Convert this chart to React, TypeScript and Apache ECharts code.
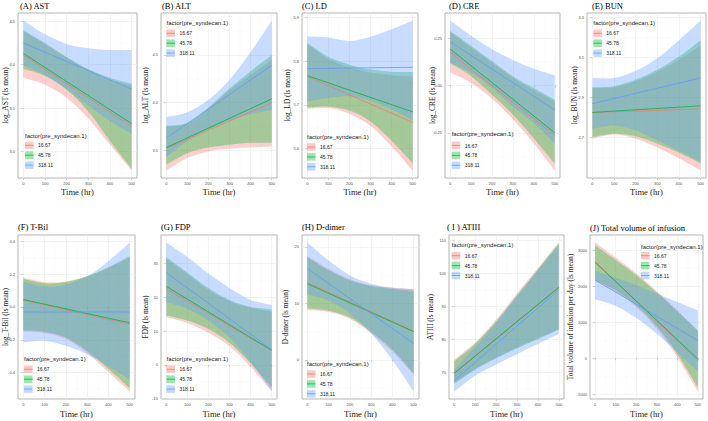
import React, { useEffect, useRef } from 'react';
import * as echarts from 'echarts';

// ---------- shared ----------
const TIMES = [0, 100, 200, 300, 400, 500];
const FIT_TIMES = [0, 500];
const X_TICKS = [0, 100, 200, 300, 400, 500];
const X_MINOR = [50, 150, 250, 350, 450];
const GROUPS = ['16.67', '45.78', '318.11'];
const COLORS = ['#F8766D', '#00BA38', '#619CFF'];
const LEGEND_TITLE = 'factor(pre_syndecan.1)';
const X_NAME = 'Time (hr)';

// ---------- (A) AST ----------  rows: 16.67, 45.78, 318.11
const astFit = [[4.11, 3.29], [4.13, 3.32], [4.25, 3.72]];
const astLower = [[3.85, 3.77, 3.62, 3.38, 3.08, 2.78], [3.95, 3.87, 3.71, 3.46, 3.12, 2.8], [3.99, 3.88, 3.72, 3.53, 3.35, 3.2]];
const astUpper = [[4.39, 4.24, 4.08, 3.94, 3.83, 3.76], [4.4, 4.25, 4.09, 3.95, 3.85, 3.78], [4.51, 4.35, 4.24, 4.19, 4.17, 4.17]];
const astTicks = [3.0, 3.5, 4.0, 4.5];

// ---------- (B) ALT ----------
const altFit = [[3.52, 4.0], [3.53, 4.04], [3.63, 4.39]];
const altLower = [[3.29, 3.42, 3.49, 3.52, 3.53, 3.54], [3.35, 3.47, 3.53, 3.56, 3.58, 3.58], [3.43, 3.6, 3.72, 3.81, 3.88, 3.92]];
const altUpper = [[3.75, 3.78, 3.94, 4.13, 4.29, 4.45], [3.76, 3.79, 3.95, 4.15, 4.33, 4.5], [3.85, 3.9, 4.03, 4.24, 4.53, 4.86]];
const altTicks = [3.5, 4.0, 4.5];

// ---------- (C) LD ----------
const ldFit = [[5.765, 5.66], [5.767, 5.684], [5.783, 5.786]];
const ldLower = [[5.691, 5.693, 5.68, 5.652, 5.605, 5.55], [5.694, 5.696, 5.687, 5.662, 5.618, 5.566], [5.708, 5.716, 5.72, 5.71, 5.69, 5.665]];
const ldUpper = [[5.838, 5.805, 5.786, 5.774, 5.768, 5.765], [5.842, 5.81, 5.792, 5.781, 5.776, 5.775], [5.857, 5.854, 5.846, 5.856, 5.873, 5.893]];
const ldTicks = [5.6, 5.7, 5.8, 5.9];

// ---------- (D) CRE ----------
const creFit = [[0.175, -0.263], [0.193, -0.25], [0.232, -0.129]];
const creLower = [[0.07, 0.015, -0.07, -0.178, -0.305, -0.45], [0.118, 0.05, -0.048, -0.155, -0.28, -0.414], [0.121, 0.068, -0.013, -0.111, -0.2, -0.307]];
const creUpper = [[0.282, 0.202, 0.121, 0.041, -0.025, -0.084], [0.291, 0.211, 0.13, 0.05, -0.013, -0.075], [0.345, 0.264, 0.193, 0.136, 0.089, 0.054]];
const creTicks = [-0.25, 0, 0.25];

// ---------- (E) BUN ----------
const bunFit = [[2.826, 2.843], [2.826, 2.859], [2.87, 2.998]];
const bunLower = [[2.695, 2.716, 2.695, 2.651, 2.597, 2.536], [2.703, 2.72, 2.707, 2.67, 2.625, 2.572], [2.744, 2.761, 2.736, 2.687, 2.634, 2.58]];
const bunUpper = [[2.949, 2.952, 2.982, 3.028, 3.089, 3.162], [2.952, 2.957, 2.99, 3.039, 3.105, 3.187], [2.998, 2.998, 3.034, 3.097, 3.187, 3.285]];
const bunTicks = [2.7, 2.9, 3.1, 3.3];

// ---------- (F) T-Bil ----------
const tbilFit = [[0.041, -0.105], [0.045, -0.097], [-0.031, -0.031]];
const tbilLower = [[-0.151, -0.159, -0.196, -0.282, -0.396, -0.515], [-0.144, -0.151, -0.186, -0.268, -0.377, -0.495], [-0.216, -0.206, -0.237, -0.289, -0.361, -0.443]];
const tbilUpper = [[0.179, 0.151, 0.155, 0.186, 0.237, 0.299], [0.171, 0.144, 0.151, 0.186, 0.241, 0.309], [0.155, 0.124, 0.134, 0.186, 0.278, 0.392]];
const tbilTicks = [-0.4, -0.2, 0, 0.2, 0.4];

// ---------- (G) FDP ----------
const fdpFit = [[22.5, 4.2], [23.2, 4.3], [27.3, 4.5]];
const fdpLower = [[14.1, 12.4, 9.5, 5.5, -0.6, -7.9], [14.6, 13.1, 10.6, 6.5, 0.4, -6.7], [18.5, 16.6, 13.1, 8.0, 0.9, -7.7]];
const fdpUpper = [[31.4, 26.8, 22.2, 18.7, 16.9, 15.8], [31.9, 27.3, 22.7, 19.2, 17.2, 16.4], [36.2, 31.9, 27.0, 22.7, 19.2, 17.7]];
const fdpTicks = [-10, 0, 10, 20, 30];

// ---------- (H) D-dimer ----------
const ddFit = [[13.7, 5.1], [13.5, 5.0], [16.2, 2.9]];
const ddLower = [[8.8, 8.5, 7.3, 4.7, 1.5, -2.6], [9.1, 8.7, 7.5, 5.0, 1.8, -2.4], [11.6, 10.5, 8.2, 4.7, 0.0, -5.6]];
const ddUpper = [[18.4, 16.1, 14.3, 13.2, 12.8, 12.6], [18.2, 15.9, 14.1, 13.1, 12.6, 12.2], [20.8, 17.6, 15.0, 13.5, 12.8, 12.5]];
const ddTicks = [0, 10, 20];

// ---------- (I) ATIII ----------
const atFit = [[69.8, 95.8], [69.7, 95.7], [67.5, 95.0]];
const atLower = [[66.7, 71.0, 74.5, 77.5, 80.3, 83.1], [66.5, 70.8, 74.2, 77.2, 80.0, 82.9], [64.2, 69.0, 72.4, 75.5, 78.6, 81.6]];
const atUpper = [[73.8, 79.0, 85.9, 93.9, 101.6, 109.3], [73.4, 78.6, 85.4, 93.3, 101.1, 109.0], [70.8, 77.7, 84.9, 92.9, 100.8, 108.5]];
const atTicks = [70, 80, 90, 100, 110];

// ---------- (J) Total volume of infusion ----------
const tvFit = [[2679, -65], [2660, -18], [2167, 493]];
const tvLower = [[2140, 1842, 1423, 819, 28, -920], [2167, 1879, 1470, 893, 121, -809], [1637, 1451, 1116, 679, 168, -372]];
const tvUpper = [[3209, 2790, 2353, 1860, 1330, 744], [3125, 2725, 2307, 1823, 1302, 772], [2419, 2233, 2028, 1795, 1563, 1330]];
const tvTicks = [-1000, 0, 1000, 2000, 3000];

const PANELS = [
  { title: '(A) AST', yName: 'log_AST (ls mean)', fit: astFit, lower: astLower, upper: astUpper, ticks: astTicks, dec: 1 },
  { title: '(B) ALT', yName: 'log_ALT (ls mean)', fit: altFit, lower: altLower, upper: altUpper, ticks: altTicks, dec: 1 },
  { title: '(C) LD', yName: 'log_LD (ls mean)', fit: ldFit, lower: ldLower, upper: ldUpper, ticks: ldTicks, dec: 1 },
  { title: '(D) CRE', yName: 'log_CRE (ls mean)', fit: creFit, lower: creLower, upper: creUpper, ticks: creTicks, dec: 2 },
  { title: '(E) BUN', yName: 'log_BUN (ls mean)', fit: bunFit, lower: bunLower, upper: bunUpper, ticks: bunTicks, dec: 1 },
  { title: '(F) T-Bil', yName: 'log_T-Bil (ls mean)', fit: tbilFit, lower: tbilLower, upper: tbilUpper, ticks: tbilTicks, dec: 1 },
  { title: '(G) FDP', yName: 'FDP (ls mean)', fit: fdpFit, lower: fdpLower, upper: fdpUpper, ticks: fdpTicks, dec: 0 },
  { title: '(H) D-dimer', yName: 'D-dimer (ls mean)', fit: ddFit, lower: ddLower, upper: ddUpper, ticks: ddTicks, dec: 0 },
  { title: '( I ) ATIII', yName: 'ATIII (ls mean)', fit: atFit, lower: atLower, upper: atUpper, ticks: atTicks, dec: 0 },
  { title: '(J) Total volume of infusion', yName: 'Total volume of infusion per day (ls mean)', fit: tvFit, lower: tvLower, upper: tvUpper, ticks: tvTicks, dec: 0 },
];

// layout (pixels)
const LAYOUT = [
  { left: 18, top: 13, width: 119, height: 165, tx: 20, ty: 6, yGap: 9.3, xGap: 9.5, lx: 25, lty: 136, lk: 145.3 },
  { left: 161, top: 13, width: 116, height: 165, tx: 162, ty: 6, yGap: 12, xGap: 9.5, lx: 166.5, lty: 22.7, lk: 33.3 },
  { left: 302, top: 13, width: 116, height: 165, tx: 302, ty: 6, yGap: 11, xGap: 9.5, lx: 307, lty: 137, lk: 147 },
  { left: 445, top: 13, width: 115, height: 165, tx: 449, ty: 6, yGap: 9.5, xGap: 9.5, lx: 451.7, lty: 134, lk: 145.5 },
  { left: 587, top: 13, width: 119, height: 165, tx: 592, ty: 6, yGap: 9, xGap: 9.5, lx: 593.3, lty: 22.7, lk: 33.3 },
  { left: 18, top: 235, width: 117, height: 164, tx: 18, ty: 227, yGap: 9.3, xGap: 10, lx: 24, lty: 359, lk: 369.3 },
  { left: 161, top: 235, width: 116, height: 164, tx: 161, ty: 227, yGap: 12, xGap: 10, lx: 166.5, lty: 359, lk: 369.3 },
  { left: 302, top: 235, width: 117, height: 164, tx: 302, ty: 227, yGap: 13, xGap: 10, lx: 307, lty: 364, lk: 374 },
  { left: 449, top: 235, width: 115, height: 164, tx: 447, ty: 227, yGap: 15, xGap: 10, lx: 451.7, lty: 245, lk: 255.7 },
  { left: 590, top: 235, width: 113, height: 164, tx: 590, ty: 227.5, yGap: 16.3, xGap: 10, lx: 641, lty: 246.7, lk: 255.7 },
];

const SERIF = '"Liberation Serif", "Times New Roman", serif';
const SANS = '"Liberation Sans", Arial, sans-serif';
const BAND_ALPHA = 0.35;
const GRID_MAJOR = '#EBEBEB';
const GRID_MINOR = '#F3F3F3';

function rgba(hex: string, a: number) {
  const n = parseInt(hex.slice(1), 16);
  return `rgba(${(n >> 16) & 255},${(n >> 8) & 255},${n & 255},${a})`;
}

type Pt = number[];
// cubic (Catmull-Rom style) path through already-projected points
function curveThrough(pts: Pt[]) {
  let d = '';
  for (let i = 0; i < pts.length - 1; i++) {
    const p0 = pts[i - 1] || pts[i];
    const p1 = pts[i];
    const p2 = pts[i + 1];
    const p3 = pts[i + 2] || pts[i + 1];
    const c1x = p1[0] + (p2[0] - p0[0]) / 6;
    const c1y = p1[1] + (p2[1] - p0[1]) / 6;
    const c2x = p2[0] - (p3[0] - p1[0]) / 6;
    const c2y = p2[1] - (p3[1] - p1[1]) / 6;
    d += `C${c1x},${c1y} ${c2x},${c2y} ${p2[0]},${p2[1]}`;
  }
  return d;
}

function bandRenderer(lo: number[], hi: number[], fill: string) {
  return (params: any, api: any) => {
    if (params.dataIndex !== 0) return null;
    const up = TIMES.map((t, j) => api.coord([t, hi[j]]));
    const dn = TIMES.map((t, j) => api.coord([t, lo[j]])).reverse();
    const d = `M${up[0][0]},${up[0][1]}` + curveThrough(up) + `L${dn[0][0]},${dn[0][1]}` + curveThrough(dn) + 'Z';
    return { type: 'path', shape: { pathData: d }, style: { fill, stroke: 'none' }, silent: true };
  };
}

function buildOption() {
  const grid: any[] = [];
  const xAxis: any[] = [];
  const yAxis: any[] = [];
  const series: any[] = [];
  const graphic: any[] = [];
  const n = PANELS.length;

  PANELS.forEach((p, gi) => {
    const L = LAYOUT[gi];
    const all = [...p.lower.flat(), ...p.upper.flat(), ...p.fit.flat()];
    const lo = Math.min(...all);
    const hi = Math.max(...all);
    const pad = (hi - lo) * 0.05;
    const yMin = lo - pad;
    const yMax = hi + pad;
    const step = p.ticks[1] - p.ticks[0];
    const yMinor = [p.ticks[0] - step / 2, ...p.ticks.map((t) => t + step / 2)].filter((v) => v > yMin && v < yMax);

    grid.push({
      left: L.left, top: L.top, width: L.width, height: L.height,
      show: true, borderColor: '#B3B3B3', borderWidth: 1, backgroundColor: '#FFFFFF',
      containLabel: false, outerBoundsMode: 'none',
    });
    xAxis[gi] = {
      gridIndex: gi, type: 'value', min: -25, max: 525, position: 'bottom',
      name: X_NAME, nameLocation: 'middle', nameGap: L.xGap, nameMoveOverlap: false,
      nameTextStyle: { fontFamily: SERIF, fontSize: 8.6, color: '#1A1A1A' },
      axisLine: { show: false },
      axisTick: { show: true, length: 2, customValues: X_TICKS, lineStyle: { color: '#B3B3B3', width: 0.6 } },
      axisLabel: { customValues: X_TICKS, fontSize: 4, color: '#4D4D4D', margin: 3, fontFamily: SANS },
      splitLine: { show: true, lineStyle: { color: GRID_MAJOR, width: 0.6 } },
      z: 1,
    };
    // minor grid x
    xAxis[n + gi] = {
      gridIndex: gi, type: 'value', min: -25, max: 525, position: 'bottom',
      axisLine: { show: false },
      axisTick: { show: false, customValues: X_MINOR },
      axisLabel: { show: false, customValues: X_MINOR },
      splitLine: { show: true, lineStyle: { color: GRID_MINOR, width: 0.4 } },
      z: 0,
    };
    yAxis[gi] = {
      gridIndex: gi, type: 'value', min: yMin, max: yMax, position: 'left',
      name: p.yName, nameLocation: 'middle', nameRotate: 90, nameGap: L.yGap, nameMoveOverlap: false,
      nameTextStyle: { fontFamily: SERIF, fontSize: 7.4, color: '#1A1A1A' },
      axisLine: { show: false },
      axisTick: { show: true, length: 2, customValues: p.ticks, lineStyle: { color: '#B3B3B3', width: 0.6 } },
      axisLabel: {
        customValues: p.ticks, fontSize: 4, color: '#4D4D4D', margin: 3, fontFamily: SANS,
        formatter: (v: number) => v.toFixed(p.dec),
      },
      splitLine: { show: true, lineStyle: { color: GRID_MAJOR, width: 0.6 } },
      z: 1,
    };
    yAxis[n + gi] = {
      gridIndex: gi, type: 'value', min: yMin, max: yMax, position: 'left',
      axisLine: { show: false },
      axisTick: { show: false, customValues: yMinor },
      axisLabel: { show: false, customValues: yMinor },
      splitLine: { show: true, lineStyle: { color: GRID_MINOR, width: 0.4 } },
      z: 0,
    };

    // confidence bands (ribbons)
    p.lower.forEach((lowArr, k) => {
      const upArr = p.upper[k];
      series.push({
        type: 'custom', xAxisIndex: gi, yAxisIndex: gi,
        data: TIMES.map((t, j) => [t, lowArr[j], upArr[j]]),
        encode: { x: 0, y: [1, 2] },
        renderItem: bandRenderer(lowArr, upArr, rgba(COLORS[k], BAND_ALPHA)),
        silent: true, z: 2, clip: true,
      });
    });
    // fitted lines
    p.fit.forEach((f, k) => {
      series.push({
        type: 'line', xAxisIndex: gi, yAxisIndex: gi,
        data: FIT_TIMES.map((t, j) => [t, f[j]]),
        symbol: 'none', silent: true, lineStyle: { color: COLORS[k], width: 0.8 },
        emphasis: { disabled: true }, z: 3,
      });
    });

    // panel title
    graphic.push({
      type: 'text', x: L.tx, y: L.ty, z: 100, silent: true,
      style: { text: p.title, fontFamily: SERIF, fontSize: 8.5, fill: '#000', verticalAlign: 'middle', align: 'left' },
    });
    // legend
    graphic.push({
      type: 'text', x: L.lx, y: L.lty, z: 100, silent: true,
      style: { text: LEGEND_TITLE, fontFamily: SANS, fontSize: 6, fill: '#1A1A1A', verticalAlign: 'middle', align: 'left' },
    });
    GROUPS.forEach((g, k) => {
      const cy = L.lk + k * 9.9;
      graphic.push({
        type: 'rect', z: 100, silent: true,
        shape: { x: L.lx, y: cy - 3.8, width: 8.5, height: 7.6 },
        style: { fill: rgba(COLORS[k], 0.38), stroke: 'none' },
      });
      graphic.push({
        type: 'line', z: 101, silent: true,
        shape: { x1: L.lx, y1: cy, x2: L.lx + 8.5, y2: cy },
        style: { stroke: COLORS[k], lineWidth: 0.8 },
      });
      graphic.push({
        type: 'text', x: L.lx + 13, y: cy, z: 100, silent: true,
        style: { text: g, fontFamily: SANS, fontSize: 5, fill: '#1A1A1A', verticalAlign: 'middle', align: 'left' },
      });
    });
  });

  return {
    animation: false,
    backgroundColor: '#FFFFFF',
    grid, xAxis, yAxis, series, graphic,
  };
}

export default function App() {
  const ref = useRef<HTMLDivElement>(null);
  useEffect(() => {
    if (!ref.current) return;
    const chart = echarts.init(ref.current, null, { renderer: 'svg' });
    chart.setOption(buildOption() as any);
    return () => chart.dispose();
  }, []);
  return (
    <div
      ref={ref}
      style={{ position: 'absolute', left: 0, top: 0, width: 708, height: 421, background: '#fff' }}
    />
  );
}
